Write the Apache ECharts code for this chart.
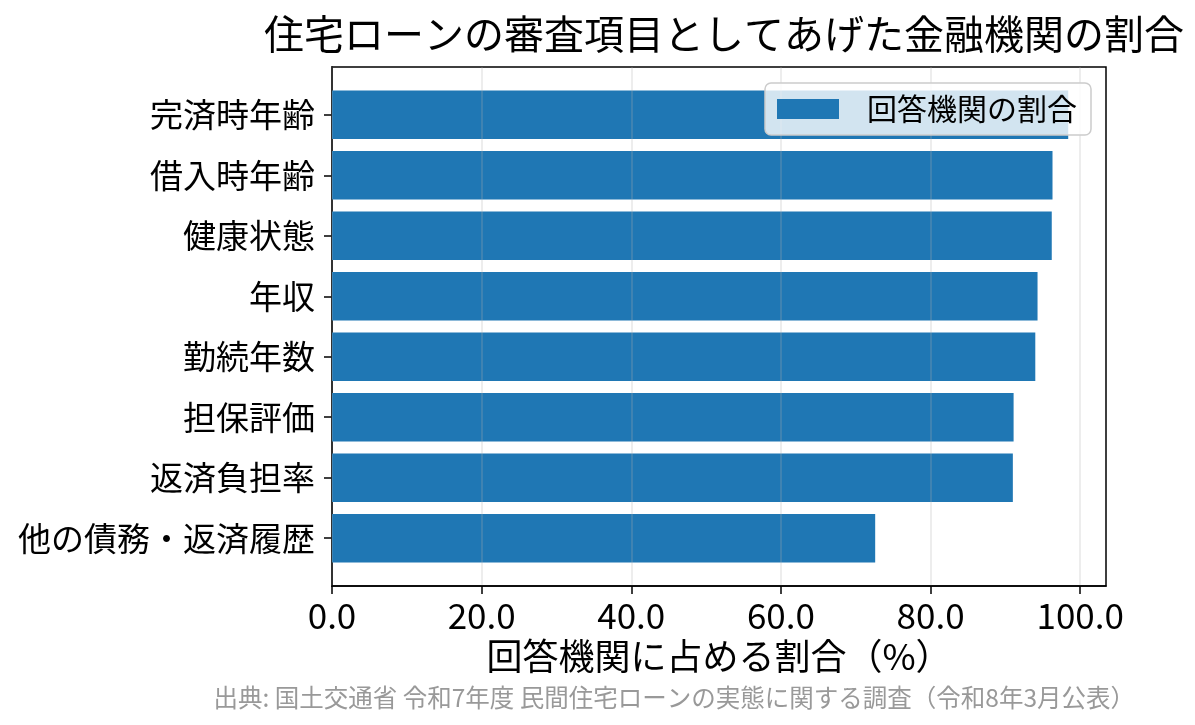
<!DOCTYPE html>
<html>
<head>
    <meta charset="utf-8">
    <title>住宅ローンの審査項目</title>
    <style>
        html, body {
            margin: 0;
            padding: 0;
            background-color: #fff;
        }
        #chart {
            width: 1195px;
            height: 725px;
        }
    </style>
</head>
<body>
    <div id="chart"></div>
</body>
<script type="text/javascript" src="https://cdn.jsdelivr.net/npm/echarts@6/dist/echarts.min.js"></script>
<script type="text/javascript">
    // 審査項目（上から順）
    var categories = ['完済時年齢', '借入時年齢', '健康状態', '年収', '勤続年数', '担保評価', '返済負担率', '他の債務・返済履歴'];
    // 回答機関の割合（%）
    var values = [98.4, 96.3, 96.2, 94.3, 94.0, 91.1, 91.0, 72.6];
    var xTicks = [0, 20, 40, 60, 80, 100];
    var yTicks = [0, 1, 2, 3, 4, 5, 6, 7];

    var font = '"Noto Sans CJK JP", "Noto Sans", sans-serif';
    var blue = '#1f77b4';

    var myChart = echarts.init(document.getElementById('chart'));

    var option = {
        backgroundColor: '#fff',
        textStyle: { fontFamily: font },
        animation: false,
        title: [
            {
                text: '住宅ローンの審査項目としてあげた金融機関の割合',
                left: 719,
                textAlign: 'center',
                top: 9,
                textStyle: { fontFamily: font, fontSize: 40, fontWeight: 'normal', color: '#000' }
            },
            {
                text: '出典: 国土交通省 令和7年度 民間住宅ローンの実態に関する調査（令和8年3月公表）',
                right: 55,
                top: 680,
                textStyle: { fontFamily: font, fontSize: 24.5, fontWeight: 'normal', color: '#999' }
            }
        ],
        legend: {
            data: ['回答機関の割合'],
            right: 104,
            top: 83,
            icon: 'rect',
            itemWidth: 62,
            itemHeight: 20,
            padding: [11, 14, 11, 12],
            backgroundColor: 'rgba(255,255,255,0.8)',
            borderColor: '#cccccc',
            borderWidth: 1.5,
            borderRadius: 6,
            textStyle: { fontFamily: font, fontSize: 30, color: '#000', padding: [0, 0, 0, 23] }
        },
        grid: {
            left: 332,
            right: 89,
            top: 67,
            bottom: 139,
            show: true,
            borderColor: '#000',
            borderWidth: 1.5,
            backgroundColor: '#fff'
        },
        xAxis: {
            type: 'value',
            min: 0,
            max: 103.45,
            z: 3,
            name: '回答機関に占める割合（%）',
            nameLocation: 'middle',
            nameGap: 50,
            nameTextStyle: { fontFamily: font, fontSize: 36, color: '#000' },
            axisLine: { show: true, onZero: false, lineStyle: { color: '#000', width: 1.5 } },
            axisTick: { show: true, customValues: xTicks, length: 8, lineStyle: { color: '#000', width: 1.5 } },
            axisLabel: {
                customValues: xTicks,
                margin: 12,
                fontSize: 35,
                color: '#000',
                fontFamily: font,
                formatter: function (v) { return v.toFixed(1); }
            },
            splitLine: { show: true, lineStyle: { color: 'rgba(176,176,176,0.3)', width: 1.5 } }
        },
        yAxis: {
            type: 'value',
            inverse: true,
            min: -0.79,
            max: 7.79,
            axisLine: { show: true, onZero: false, lineStyle: { color: '#000', width: 1.5 } },
            axisTick: { show: true, customValues: yTicks, length: 8, lineStyle: { color: '#000', width: 1.5 } },
            axisLabel: {
                customValues: yTicks,
                margin: 17,
                fontSize: 33,
                color: '#000',
                fontFamily: font,
                formatter: function (v) { return categories[Math.round(v)]; }
            },
            splitLine: { show: false }
        },
        series: [
            {
                name: '回答機関の割合',
                type: 'custom',
                itemStyle: { color: blue },
                encode: { x: 0, y: 1 },
                data: values.map(function (v, i) { return [v, i]; }),
                renderItem: function (params, api) {
                    var idx = api.value(1);
                    var start = api.coord([0, idx]);
                    var end = api.coord([api.value(0), idx]);
                    var h = api.size([0, 0.8])[1];
                    return {
                        type: 'rect',
                        shape: { x: start[0], y: start[1] - h / 2, width: end[0] - start[0], height: h },
                        style: api.style()
                    };
                }
            }
        ]
    };

    myChart.setOption(option);
</script>
</html>
